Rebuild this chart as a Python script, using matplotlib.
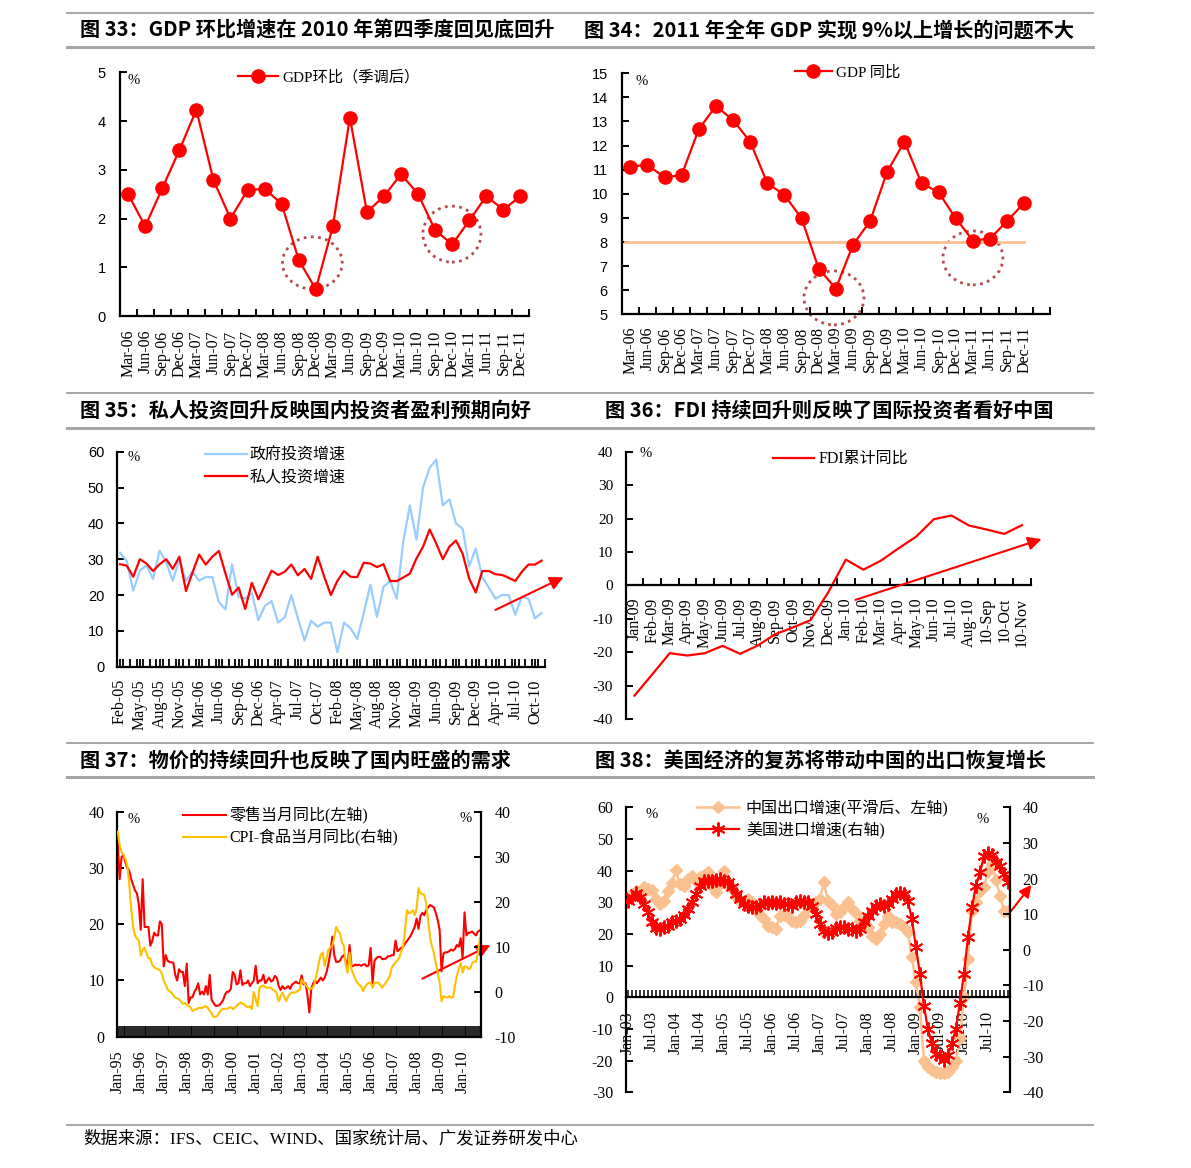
import numpy as np
import matplotlib.pyplot as plt
from matplotlib.lines import Line2D
from matplotlib.patches import Ellipse

plt.rcParams['font.family'] = ['Liberation Serif', 'Noto Sans CJK SC', 'DejaVu Sans']
plt.rcParams['axes.unicode_minus'] = False

W, H = 1191, 1168

# ---------------- 数据 ----------------
# 图33 / 图34：季度 GDP
quarters = [m + '-' + y for y in ['06', '07', '08', '09', '10', '11'] for m in ['Mar', 'Jun', 'Sep', 'Dec']]
gdp_qoq = [2.50, 1.84, 2.62, 3.40, 4.23, 2.79, 2.00, 2.58, 2.61, 2.30, 1.15, 0.55,
           1.84, 4.07, 2.13, 2.46, 2.91, 2.50, 1.76, 1.47, 1.96, 2.46, 2.18, 2.46]
gdp_yoy = [11.13, 11.20, 10.68, 10.78, 12.68, 13.64, 13.06, 12.16, 10.44, 9.95, 8.98, 6.89,
           6.07, 7.88, 8.87, 10.92, 12.16, 10.44, 10.06, 8.98, 8.06, 8.14, 8.87, 9.63]
gdp_target = 8

# 图35：政府 / 私人投资增速（Feb-05 ~ Nov-10，无 1 月）
inv_ticks = [0, 3, 6, 9, 12, 15, 18, 21, 24, 27, 30, 33, 36, 39, 42, 45, 48, 51, 54, 57, 60, 63]
inv_labels = ['Feb-05', 'May-05', 'Aug-05', 'Nov-05', 'Mar-06', 'Jun-06', 'Sep-06', 'Dec-06',
              'Apr-07', 'Jul-07', 'Oct-07', 'Feb-08', 'May-08', 'Aug-08', 'Nov-08', 'Mar-09',
              'Jun-09', 'Sep-09', 'Dec-09', 'Apr-10', 'Jul-10', 'Oct-10']
gov_inv = [31.8, 29.5, 21.2, 26.8, 28.3, 24.5, 32.4, 29.2, 24.0, 30.0, 24.0, 26.5, 24.0,
           25.0, 25.0, 18.0, 16.0, 28.5, 19.5, 19.0, 20.5, 13.0, 17.0, 18.3, 12.3, 13.8,
           20.0, 13.5, 7.3, 12.8, 11.2, 12.3, 12.3, 4.0, 12.3, 10.7, 7.7, 15.0, 22.9,
           13.9, 22.3, 23.9, 19.0, 35.0, 45.0, 35.5, 50.0, 55.5, 57.8, 45.0, 46.7, 40.0,
           38.5, 28.0, 33.0, 25.0, 22.0, 19.0, 20.0, 20.0, 14.5, 19.5, 19.0, 13.5, 15.0]
pri_inv = [28.6, 28.2, 25.1, 30.0, 28.8, 26.7, 28.6, 30.0, 27.3, 30.7, 21.1, 26.3, 31.3,
           28.5, 30.7, 32.3, 26.0, 20.1, 22.1, 16.1, 23.4, 18.8, 22.8, 26.8, 25.6, 26.5,
           28.5, 25.5, 27.3, 24.5, 30.7, 25.1, 20.0, 24.0, 26.7, 25.1, 25.0, 29.0, 28.8,
           27.8, 28.6, 23.9, 23.9, 24.9, 26.0, 30.2, 33.5, 38.3, 34.4, 30.0, 33.5, 35.2,
           31.6, 24.6, 20.7, 26.7, 26.7, 25.8, 25.6, 24.8, 23.9, 26.5, 28.5, 28.5, 29.6]

# 图36：FDI 累计同比
fdi_labels = ['Jan-09', 'Feb-09', 'Mar-09', 'Apr-09', 'May-09', 'Jun-09', 'Jul-09', 'Aug-09',
              'Sep-09', 'Oct-09', 'Nov-09', 'Dec-09', 'Jan-10', 'Feb-10', 'Mar-10', 'Apr-10',
              'May-10', 'Jun-10', 'Jul-10', 'Aug-10', '10-Sep', '10-Oct', '10-Nov']
fdi = [-33.0, -26.7, -20.3, -21.0, -20.3, -18.1, -20.5, -18.0, -14.6, -12.6, -10.4, -2.1,
       7.7, 4.7, 7.4, 11.1, 14.6, 19.8, 20.9, 17.9, 16.7, 15.4, 18.0]

# 图37：零售当月同比(左轴) 与 CPI-食品当月同比(右轴)，Jan-95 ~ Oct-10
cpi_labels = ['Jan-95', 'Jan-96', 'Jan-97', 'Jan-98', 'Jan-99', 'Jan-00', 'Jan-01', 'Jan-02',
              'Jan-03', 'Jan-04', 'Jan-05', 'Jan-06', 'Jan-07', 'Jan-08', 'Jan-09', 'Jan-10']
retail = [34.4, 28.0, 32.0, 32.3, 31.0, 30.0, 29.5, 28.0, 27.0, 26.0, 25.5, 23.5,
          19.0, 28.0, 19.5, 19.5, 19.5, 16.2, 17.0, 18.5, 18.0, 18.0, 20.5, 20.0,
          12.5, 14.5, 13.5, 13.3, 13.2, 13.2, 11.0, 10.0, 12.0, 11.5, 11.5, 9.0,
          13.0, 6.0, 7.0, 7.0, 8.0, 8.5, 9.5, 7.5, 8.0, 7.5, 9.0, 7.5,
          11.0, 6.5, 6.0, 5.5, 5.5, 5.6, 6.0, 6.5, 7.5, 8.0, 8.0, 8.5,
          11.5, 11.0, 9.3, 9.5, 11.8, 9.2, 9.5, 9.5, 10.0, 9.0, 9.5, 10.0,
          12.6, 9.5, 10.0, 10.0, 11.0, 9.5, 10.0, 10.5, 9.8, 10.0, 10.8, 10.5,
          9.0, 8.3, 9.0, 8.5, 8.7, 9.0, 8.5, 9.3, 9.5, 9.8, 9.5, 9.5,
          10.9, 9.3, 9.5, 7.5, 4.3, 8.5, 9.5, 10.0, 9.5, 10.0, 10.5, 10.0,
          10.5, 11.5, 13.0, 15.0, 17.8, 14.5, 13.3, 13.3, 13.5, 14.2, 14.5, 13.5,
          12.5, 16.3, 12.5, 12.6, 12.8, 12.7, 12.8, 12.6, 12.8, 12.9, 12.5, 12.7,
          15.8, 9.5, 13.5, 14.0, 14.2, 14.2, 13.8, 13.8, 13.9, 14.3, 14.3, 14.5,
          14.5, 17.1, 15.2, 15.5, 15.8, 16.0, 16.6, 17.0, 17.5, 18.0, 18.8, 19.5,
          21.0, 19.2, 21.5, 22.0, 21.6, 22.5, 23.0, 23.4, 23.2, 23.0, 22.0, 20.8,
          19.0, 11.6, 14.8, 15.0, 15.0, 15.2, 15.5, 15.3, 15.6, 16.3, 16.0, 17.5,
          14.0, 22.1, 18.0, 18.5, 18.5, 18.7, 18.3, 18.0, 18.7, 18.9]
cpi_food = [35.6, 32.5, 31.0, 30.4, 29.5, 28.0, 24.0, 18.5, 14.5, 12.5, 11.8, 11.4,
            8.0, 9.4, 9.8, 8.5, 7.4, 7.4, 6.0, 5.4, 5.2, 5.0, 4.8, 4.0,
            2.5, 1.6, 0.5, 0.1, -0.2, -0.8, -1.3, -1.5, -1.7, -2.2, -2.7, -2.5,
            -3.0, -3.2, -3.5, -4.3, -4.0, -3.9, -3.6, -3.6, -3.6, -3.4, -3.2, -3.6,
            -4.3, -4.8, -5.6, -5.6, -5.3, -4.6, -4.1, -3.8, -3.8, -3.8, -3.6, -3.4,
            -3.9, -3.6, -3.2, -2.8, -2.4, -2.6, -2.8, -3.2, -3.5, -3.2, -3.9, -0.1,
            -1.6, -3.2, 0.9, 1.2, 1.4, 1.0, 0.9, 0.9, 0.9, 0.4, 0.2, -0.4,
            -2.1, -1.0, -0.2, -1.2, -2.1, -1.0, -0.4, -0.2, -0.2, -0.1, 0.2, 0.5,
            2.7, 2.0, 1.6, 1.0, 0.5, 0.7, 0.9, 2.5, 4.2, 6.5, 8.3, 8.7,
            5.7, 7.5, 9.4, 9.8, 10.2, 12.0, 14.4, 13.5, 13.0, 11.0, 10.2, 6.0,
            4.2, 8.7, 5.0, 3.9, 2.8, 2.0, 1.5, 1.3, 0.1, 1.0, 1.6, 2.0,
            2.0, 0.9, 2.0, 2.0, 2.0, 1.5, 0.9, 1.5, 2.0, 2.7, 3.5, 5.3,
            6.0, 6.4, 7.0, 7.6, 9.0, 10.2, 14.0, 18.1, 17.4, 17.6, 18.1, 17.0,
            18.5, 23.0, 21.9, 21.7, 21.5, 19.6, 15.9, 12.2, 10.0, 8.7, 6.5, 4.2,
            2.0, -2.1, -1.0, -1.2, -1.3, -1.0, -1.3, -1.2, 1.3, 3.5, 5.0, 6.4,
            4.2, 5.6, 5.6, 5.1, 5.1, 6.4, 6.7, 6.7, 8.5, 11.9]

# 图38：中国出口增速(左轴) 与 美国进口增速(右轴)，Jan-03 ~ Dec-10
trade_labels = ['Jan-03', 'Jul-03', 'Jan-04', 'Jul-04', 'Jan-05', 'Jul-05', 'Jan-06', 'Jul-06',
                'Jan-07', 'Jul-07', 'Jan-08', 'Jul-08', 'Jan-09', 'Jul-09', 'Jan-10', 'Jul-10']
cn_export = [31.6, 32.6, 33.5, 32.0, 34.7, 34.3, 34.0, 31.0, 29.5, 30.5, 33.5, 36.0,
             40.2, 35.8, 35.0, 37.5, 38.4, 36.8, 37.9, 38.5, 39.5, 35.0, 33.2, 35.8,
             40.0, 36.0, 34.2, 31.6, 30.5, 30.5, 31.0, 30.0, 27.9, 26.0, 24.7, 22.5,
             22.1, 21.6, 25.8, 26.0, 25.3, 24.0, 23.7, 24.2, 26.0, 28.4, 29.5, 30.0,
             31.0, 36.3, 30.5, 29.0, 26.3, 27.0, 28.4, 30.0, 28.0, 26.5, 24.2, 23.0,
             22.1, 19.5, 18.4, 20.0, 23.0, 25.8, 23.7, 23.7, 23.0, 22.1, 20.5, 12.6,
             4.7, -3.2, -20.0, -22.1, -23.0, -23.5, -24.0, -24.0, -23.5, -22.0, -20.0, -13.0,
             0.0, 12.1, 27.4, 30.0, 33.7, 34.7, 40.0, 42.1, 37.0, 32.1, 27.4, 27.4]
us_import = [13.8, 14.7, 15.9, 14.7, 12.8, 10.5, 7.9, 6.0, 5.8, 6.3, 6.7, 7.7,
             8.1, 8.6, 9.7, 11.4, 13.3, 15.6, 18.0, 19.4, 19.4, 19.4, 19.6, 19.8,
             19.4, 18.9, 17.5, 15.6, 14.2, 12.8, 12.3, 11.9, 11.9, 12.5, 13.3, 13.1,
             13.3, 13.1, 13.5, 12.8, 12.8, 12.3, 13.3, 13.8, 13.3, 13.5, 12.3, 10.0,
             7.2, 5.3, 4.7, 4.9, 6.0, 6.3, 6.3, 5.8, 5.8, 5.3, 5.8, 7.9,
             9.5, 10.9, 12.3, 12.8, 12.3, 12.8, 14.2, 15.6, 15.9, 15.6, 13.6, 8.6,
             0.7, -6.8, -15.7, -22.3, -26.2, -29.3, -29.7, -30.9, -29.6, -26.2, -22.1, -14.8,
             -6.8, 3.5, 11.9, 18.0, 21.7, 26.2, 27.3, 26.6, 24.7, 23.6, 21.2, 19.1]

titles = [
    ('图 33：GDP 环比增速在 2010 年第四季度回见底回升', 80, 30),
    ('图 34：2011 年全年 GDP 实现 9%以上增长的问题不大', 584, 30),
    ('图 35：私人投资回升反映国内投资者盈利预期向好', 80, 410),
    ('图 36：FDI 持续回升则反映了国际投资者看好中国', 605, 410),
    ('图 37：物价的持续回升也反映了国内旺盛的需求', 80, 760),
    ('图 38：美国经济的复苏将带动中国的出口恢复增长', 595, 760),
]
source = '数据来源：IFS、CEIC、WIND、国家统计局、广发证券研发中心'

RED = '#FF0000'
SANS = 'Liberation Sans'
XLAB = 11.5

fig = plt.figure(figsize=(W / 100, H / 100), dpi=100)


def add_ax(x0, y0, x1, y1):
    # 按像素位置放置坐标轴
    return fig.add_axes([x0 / W, 1 - y1 / H, (x1 - x0) / W, (y1 - y0) / H])


def base_style(ax, ylab_family, ylab_size):
    for s in ['top', 'right']:
        ax.spines[s].set_visible(False)
    for s in ['left', 'bottom']:
        ax.spines[s].set_linewidth(1.6)
    ax.tick_params(axis='y', direction='in', length=5, width=1.4, labelsize=ylab_size)
    for lab in ax.get_yticklabels():
        lab.set_family(ylab_family)


def pct(ax, fx, fy):
    ax.text(fx, fy, '%', transform=ax.transAxes, ha='center', va='center', fontsize=10.5)


# 标题栏与分隔线
for ytop, ybot in [(13.3, 47.3), (393.3, 427.7), (743.3, 777.3)]:
    fig.add_artist(Line2D([67 / W, 1093 / W], [1 - ytop / H] * 2, color='#A6A6A6', lw=1.4))
    fig.add_artist(Line2D([67 / W, 1093 / W], [1 - ybot / H] * 2, color='#A6A6A6', lw=2.2))
for t, x, y in titles:
    fig.text(x / W, 1 - y / H, t, ha='left', va='center', fontsize=14.5, weight='bold',
             family=['Noto Sans CJK SC', 'DejaVu Sans'])
fig.add_artist(Line2D([67 / W, 1093 / W], [1 - 1124.5 / H] * 2, color='#A6A6A6', lw=1.4))
fig.text(83 / W, 1 - 1139 / H, source, ha='left', va='center', fontsize=12.5)

# ---------------- 图33 ----------------
ax1 = add_ax(119.6, 72.3, 529, 316)
x1 = np.arange(len(quarters))
ax1.plot(x1, gdp_qoq, color=RED, lw=1.6, marker='o', ms=9.5, clip_on=False,
         label='GDP环比（季调后）')
ax1.set_xlim(-0.5, len(quarters) - 0.5)
ax1.set_ylim(0, 5)
ax1.set_yticks(range(0, 6))
base_style(ax1, SANS, 10.5)
ax1.set_xticks(x1)
ax1.set_xticklabels(quarters, rotation=90, fontsize=XLAB)
ax1.set_xticks(np.arange(0.5, len(quarters), 1), minor=True)
ax1.tick_params(axis='x', which='major', length=0, pad=10)
ax1.tick_params(axis='x', which='minor', direction='in', length=5, width=1.4)
ax1.tick_params(axis='y', pad=10)
for c in [(10.8, 1.09, 3.5, 1.07), (18.98, 1.68, 3.4, 1.15)]:
    ax1.add_patch(Ellipse(c[:2], c[2], c[3], fill=False, ec='#B84B4B', lw=2,
                          ls=(0, (1, 1.6)), clip_on=False))
ax1.legend(loc='center left', bbox_to_anchor=(0.289, 0.981), frameon=False, fontsize=11,
           handlelength=2.6, handletextpad=0.3, borderpad=0, borderaxespad=0, numpoints=1)
pct(ax1, 0.035, 0.968)

# ---------------- 图34 ----------------
ax2 = add_ax(621.7, 73.3, 1050, 314.3)
x2 = np.arange(len(quarters))
ax2.axhline(gdp_target, xmin=0.008, xmax=0.94, color='#FAC090', lw=2)
ax2.plot(x2, gdp_yoy, color=RED, lw=1.6, marker='o', ms=9.5, clip_on=False, label='GDP 同比')
ax2.set_xlim(-0.5, len(quarters) + 0.5)
ax2.set_ylim(5, 15)
ax2.set_yticks(range(5, 16))
base_style(ax2, SANS, 10.5)
ax2.set_xticks(x2)
ax2.set_xticklabels(quarters, rotation=90, fontsize=XLAB)
ax2.set_xticks(np.arange(0.5, len(quarters) + 1, 1), minor=True)
ax2.tick_params(axis='x', which='major', length=0, pad=9)
ax2.tick_params(axis='x', which='minor', direction='in', length=5, width=1.4)
ax2.tick_params(axis='y', pad=10)
for c in [(11.89, 5.68, 3.5, 2.24), (20.0, 7.34, 3.5, 2.24)]:
    ax2.add_patch(Ellipse(c[:2], c[2], c[3], fill=False, ec='#B84B4B', lw=2,
                          ls=(0, (1, 1.6)), clip_on=False))
ax2.legend(loc='center left', bbox_to_anchor=(0.405, 1.005), frameon=False, fontsize=11,
           handlelength=2.4, handletextpad=0.3, borderpad=0, borderaxespad=0, numpoints=1)
pct(ax2, 0.047, 0.968)

# ---------------- 图35 ----------------
ax3 = add_ax(116.8, 451.7, 544.9, 666.7)
x3 = np.arange(len(pri_inv))
ax3.plot(x3, gov_inv, color='#99CCFF', lw=1.6, label='政府投资增速')
ax3.plot(x3, pri_inv, color=RED, lw=1.6, label='私人投资增速')
ax3.set_xlim(-0.5, len(pri_inv) - 0.5)
ax3.set_ylim(0, 60)
ax3.set_yticks(range(0, 61, 10))
base_style(ax3, SANS, 10.5)
ax3.set_xticks(inv_ticks)
ax3.set_xticklabels(inv_labels, rotation=90, fontsize=XLAB)
ax3.set_xticks(np.arange(0, len(pri_inv) + 1) - 0.5, minor=True)
ax3.tick_params(axis='x', which='both', direction='in', length=6, width=1.3, pad=9)
ax3.tick_params(axis='y', pad=9)
ax3.annotate('', xy=(67.7, 25.3), xytext=(56.6, 15.5), annotation_clip=False,
             arrowprops=dict(arrowstyle='-|>', color=RED, lw=1.5, mutation_scale=20))
ax3.legend(loc='center left', bbox_to_anchor=(0.206, 0.93), frameon=False, fontsize=11.5,
           handlelength=2.6, handletextpad=0.2, borderpad=0, borderaxespad=0, labelspacing=0.35)
pct(ax3, 0.040, 0.971)

# ---------------- 图36 ----------------
ax4 = add_ax(625.7, 451.7, 1030.7, 719)
x4 = np.arange(len(fdi))
ax4.plot(x4, fdi, color=RED, lw=1.6, label='FDI累计同比')
ax4.set_xlim(-0.5, len(fdi) - 0.5)
ax4.set_ylim(-40, 40)
ax4.set_yticks(range(-40, 41, 10))
base_style(ax4, 'Liberation Serif', 11)
ax4.spines['bottom'].set_position(('data', 0))
ax4.set_xticks(x4)
ax4.set_xticklabels(fdi_labels, rotation=90, fontsize=XLAB)
ax4.set_xticks(np.arange(0.5, len(fdi), 1), minor=True)
ax4.tick_params(axis='x', which='major', length=0, pad=9)
ax4.tick_params(axis='x', which='minor', direction='in', length=5, width=1.4)
ax4.tick_params(axis='y', pad=9)
ax4.annotate('', xy=(23.27, 14.1), xytext=(12.4, -4.6), annotation_clip=False,
             arrowprops=dict(arrowstyle='-|>', color=RED, lw=1.5, mutation_scale=20))
ax4.legend(loc='center left', bbox_to_anchor=(0.363, 0.972), frameon=False, fontsize=11.5,
           handlelength=2.6, handletextpad=0.3, borderpad=0, borderaxespad=0)
pct(ax4, 0.049, 0.995)

# ---------------- 图37 ----------------
ax5 = add_ax(116.8, 811.7, 480.8, 1036.7)
ax5r = ax5.twinx()
x5 = np.arange(len(retail))
l1, = ax5.plot(x5, retail, color=RED, lw=1.5, label='零售当月同比(左轴)')
l2, = ax5r.plot(x5, cpi_food, color='#FFC000', lw=1.5, label='CPI-食品当月同比(右轴)')
ax5.set_xlim(-0.5, len(retail) - 0.5)
ax5.set_ylim(0, 40)
ax5.set_yticks(range(0, 41, 10))
ax5r.set_ylim(-10, 40)
ax5r.set_yticks(range(-10, 41, 10))
base_style(ax5, 'Liberation Serif', 11.5)
for s in ['top', 'left', 'bottom']:
    ax5r.spines[s].set_visible(False)
ax5r.spines['right'].set_linewidth(1.6)
ax5r.tick_params(axis='y', direction='in', length=5, width=1.4, labelsize=11.5, pad=10)
for lab in ax5r.get_yticklabels():
    lab.set_family('Liberation Serif')
ax5.set_xticks(x5[::12])
ax5.set_xticklabels(cpi_labels, rotation=90, fontsize=XLAB)
ax5.set_xticks(x5, minor=True)
ax5.tick_params(axis='x', which='both', direction='in', length=8, width=1.2, pad=10)
ax5.tick_params(axis='y', pad=9)
ax5.annotate('', xy=(195.8, 16.5), xytext=(157.7, 10.1), annotation_clip=False,
             arrowprops=dict(arrowstyle='-|>', color=RED, lw=1.5, mutation_scale=20))
ax5r.legend(handles=[l1, l2], loc='center left', bbox_to_anchor=(0.182, 0.934), frameon=False,
            fontsize=11.5, handlelength=2.7, handletextpad=0.2, borderpad=0, borderaxespad=0,
            labelspacing=0.3)
pct(ax5, 0.047, 0.964)
pct(ax5, 0.958, 0.968)

# ---------------- 图38 ----------------
ax6 = add_ax(625.7, 807.3, 1010, 1092.3)
ax6r = ax6.twinx()
x6 = np.arange(len(cn_export))
l3, = ax6.plot(x6, cn_export, color='#FAC090', lw=1.8, marker='D', ms=6.5,
               label='中国出口增速(平滑后、左轴)')
l4, = ax6r.plot(x6, us_import, color=RED, lw=1.6, marker=(6, 2, 0), ms=10, mew=1.4,
                label='美国进口增速(右轴)')
ax6.set_xlim(-0.5, len(cn_export) - 0.5)
ax6.set_ylim(-30, 60)
ax6.set_yticks(range(-30, 61, 10))
ax6r.set_ylim(-40, 40)
ax6r.set_yticks(range(-40, 41, 10))
base_style(ax6, 'Liberation Serif', 11.5)
ax6.spines['bottom'].set_position(('data', 0))
for s in ['top', 'left', 'bottom']:
    ax6r.spines[s].set_visible(False)
ax6r.spines['right'].set_linewidth(1.6)
ax6r.tick_params(axis='y', direction='in', length=5, width=1.4, labelsize=11.5, pad=9)
for lab in ax6r.get_yticklabels():
    lab.set_family('Liberation Serif')
ax6.set_xticks(x6[::6])
ax6.set_xticklabels(trade_labels, rotation=90, fontsize=XLAB)
ax6.set_xticks(x6, minor=True)
ax6.tick_params(axis='x', which='both', direction='in', length=5, width=1.1, pad=10)
ax6.tick_params(axis='y', pad=9)
ax6.annotate('', xy=(101.3, 36.2), xytext=(95.3, 26.5), annotation_clip=False,
             arrowprops=dict(arrowstyle='-|>', color=RED, lw=1.5, mutation_scale=18))
ax6r.legend(handles=[l3, l4], loc='center left', bbox_to_anchor=(0.186, 0.959), frameon=False,
            fontsize=11.5, handlelength=2.6, handletextpad=0.45, borderpad=0, borderaxespad=0,
            labelspacing=0.3, numpoints=1)
pct(ax6, 0.068, 0.974)
pct(ax6, 0.928, 0.956)

fig.savefig('out.png', dpi=100)
